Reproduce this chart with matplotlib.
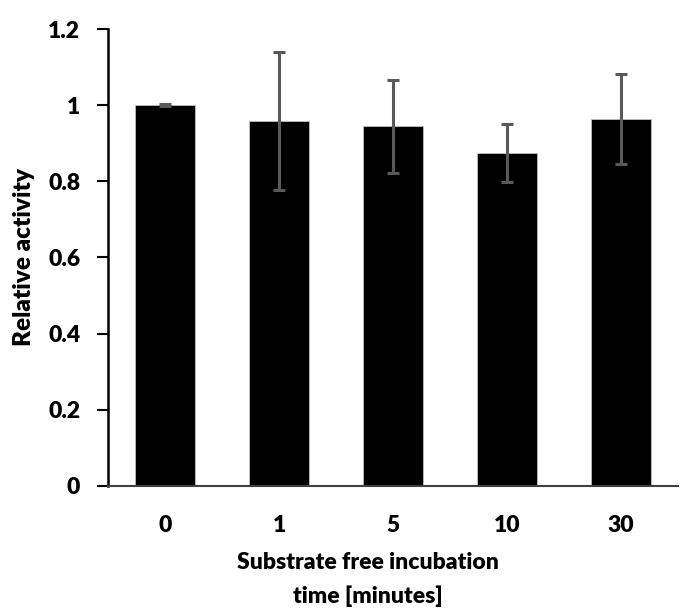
import matplotlib
matplotlib.use("Agg")
import matplotlib.pyplot as plt
import numpy as np

categories = ["0", "1", "5", "10", "30"]
values = [1.0, 0.958, 0.945, 0.875, 0.964]
errors = [0.002, 0.182, 0.122, 0.076, 0.118]
yticks = [0, 0.2, 0.4, 0.6, 0.8, 1, 1.2]
ytick_labels = ["0", "0.2", "0.4", "0.6", "0.8", "1", "1.2"]

plt.rcParams['font.family'] = ['Lato', 'DejaVu Sans']
FW = 'heavy'
FS = 16.5

fig = plt.figure(figsize=(6.9, 6.12), dpi=100)
ax = fig.add_axes([0.1565, 0.206, 0.8265, 0.7466])

x = np.arange(len(categories))
ax.bar(x, values, width=0.53, color='black', edgecolor='#bfbfbf', linewidth=0.6, zorder=2)
ax.errorbar(x, values, yerr=errors, fmt='none', ecolor='#595959', elinewidth=2.2,
            capsize=4, capthick=2.2, zorder=3)

ax.set_xlim(-0.5, len(categories) - 0.5)
ax.set_ylim(0, 1.2)
ax.set_yticks(yticks)
ax.set_yticklabels(ytick_labels, fontsize=FS, fontweight=FW)
ax.set_xticks(x)
ax.set_xticklabels(categories, fontsize=FS, fontweight=FW)
ax.tick_params(axis='x', length=0, pad=21)
ax.tick_params(axis='y', length=8, width=1.5, direction='out', pad=12)

for s in ['top', 'right']:
    ax.spines[s].set_visible(False)
ax.spines['left'].set_linewidth(1.8)
ax.spines['left'].set_color('black')
ax.spines['bottom'].set_linewidth(1.5)
ax.spines['bottom'].set_color('#404040')

ax.set_ylabel("Relative activity", fontsize=17.5, fontweight=FW)
ax.yaxis.set_label_coords(-0.128, 0.5)
ax.set_xlabel("Substrate free incubation\ntime [minutes]", fontsize=FS,
              fontweight=FW, linespacing=1.7)
ax.xaxis.set_label_coords(0.455, -0.145)
ax.xaxis.label.set_verticalalignment('top')

fig.savefig("out.png", dpi=100)
